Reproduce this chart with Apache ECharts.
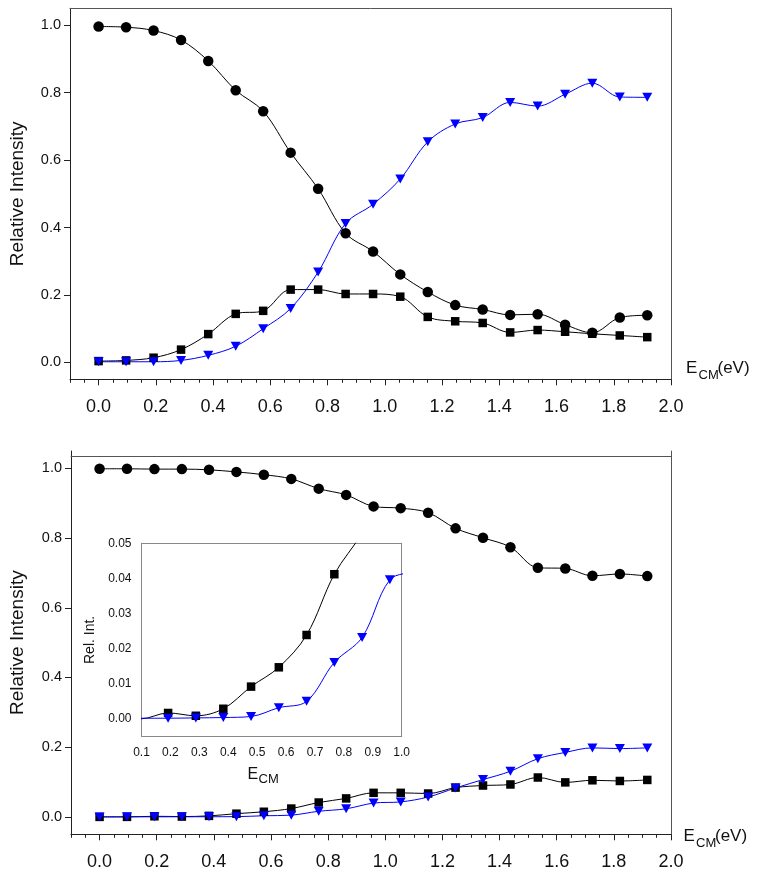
<!DOCTYPE html>
<html>
<head>
<meta charset="utf-8">
<script src="https://cdn.jsdelivr.net/npm/echarts@6/dist/echarts.min.js"></script>
<style>
html,body{margin:0;padding:0;background:#fff;}
#chart{width:762px;height:875px;}
</style>
</head>
<body>
<div id="chart"></div>
<script>
// ---- data ----
const energies = [0, 0.096, 0.192, 0.288, 0.383, 0.479, 0.575, 0.671, 0.767, 0.863, 0.959, 1.054, 1.150, 1.246, 1.342, 1.438, 1.534, 1.630, 1.725, 1.821, 1.917];

const topCircles   = [0.996, 0.994, 0.984, 0.956, 0.894, 0.807, 0.745, 0.622, 0.515, 0.383, 0.329, 0.261, 0.209, 0.170, 0.157, 0.141, 0.143, 0.112, 0.088, 0.133, 0.140];
const topSquares   = [0.004, 0.006, 0.014, 0.038, 0.084, 0.144, 0.153, 0.216, 0.216, 0.203, 0.203, 0.195, 0.135, 0.122, 0.117, 0.089, 0.096, 0.091, 0.085, 0.080, 0.075];
const topTriangles = [0.002, 0.002, 0.002, 0.006, 0.021, 0.048, 0.100, 0.160, 0.268, 0.412, 0.469, 0.544, 0.654, 0.707, 0.726, 0.771, 0.760, 0.795, 0.828, 0.787, 0.786];

const botCircles   = [0.999, 0.999, 0.998, 0.998, 0.996, 0.990, 0.982, 0.970, 0.942, 0.924, 0.891, 0.886, 0.873, 0.828, 0.801, 0.774, 0.715, 0.713, 0.692, 0.697, 0.691];
const botSquares   = [0.000, 0.000, 0.0017, 0.0009, 0.0029, 0.0092, 0.0147, 0.0239, 0.0412, 0.053, 0.069, 0.069, 0.067, 0.084, 0.090, 0.093, 0.113, 0.099, 0.105, 0.103, 0.106];
const botTriangles = [0.000, 0.0002, 0.0002, 0.0003, 0.0004, 0.0007, 0.0032, 0.0050, 0.0161, 0.0232, 0.0396, 0.043, 0.057, 0.083, 0.107, 0.131, 0.167, 0.185, 0.198, 0.196, 0.198];

const xMajorTicks = [0, 0.2, 0.4, 0.6, 0.8, 1.0, 1.2, 1.4, 1.6, 1.8, 2.0];
const yMajorTicks = [0, 0.2, 0.4, 0.6, 0.8, 1.0];
const insetXTicks = [0.1, 0.2, 0.3, 0.4, 0.5, 0.6, 0.7, 0.8, 0.9, 1.0];
const insetYTicks = [0, 0.01, 0.02, 0.03, 0.04, 0.05];

// ---- helpers ----
const xMinorTicks = [];
for (let i = -2; i <= 40; i++) { if (i % 4 !== 0) xMinorTicks.push(+(i * 0.05).toFixed(2)); }
const pairs = ys => energies.map((x, i) => [x, ys[i]]);

const FONT = '"Liberation Sans", Arial, Helvetica, sans-serif';
const AX = '#222';
const BORDER = '#555';
const BLUE = '#0000ff';

function mainXAxes(grid) {
  return [
    {
      gridIndex: grid, type: 'value', min: -0.1, max: 2.0, position: 'bottom',
      axisLine: { show: true, onZero: false, lineStyle: { color: AX, width: 1 } },
      axisTick: { show: true, length: 6, customValues: xMajorTicks, lineStyle: { color: AX } },
      axisLabel: { customValues: xMajorTicks, formatter: v => v.toFixed(1), fontSize: 18, margin: 19, color: '#111', fontFamily: FONT },
      splitLine: { show: false }
    },
    {
      gridIndex: grid, type: 'value', min: -0.1, max: 2.0, position: 'bottom',
      axisLine: { show: false, onZero: false },
      axisTick: { show: true, length: 3.5, customValues: xMinorTicks, lineStyle: { color: AX } },
      axisLabel: { show: false }, splitLine: { show: false }
    }
  ];
}
function topBorder(grid, offset) {
  return {
    gridIndex: grid, type: 'value', min: -0.1, max: 2.0, position: 'top', offset: offset,
    axisLine: { show: true, onZero: false, lineStyle: { color: BORDER } },
    axisTick: { show: false }, axisLabel: { show: false }, splitLine: { show: false }
  };
}
function mainYAxes(grid, nameGap) {
  return [
    {
      gridIndex: grid, type: 'value', min: -0.05, max: 1.05, position: 'left',
      axisLine: { show: true, onZero: false, lineStyle: { color: AX } },
      axisTick: { show: true, length: 6, customValues: yMajorTicks, lineStyle: { color: AX } },
      axisLabel: { customValues: yMajorTicks, formatter: v => v.toFixed(1), fontSize: 14.5, margin: 9, color: '#111', fontFamily: FONT },
      splitLine: { show: false },
      name: 'Relative Intensity', nameLocation: 'middle', nameGap: nameGap,
      nameTextStyle: { fontSize: 19, fontFamily: FONT, color: '#111' }
    },
    {
      gridIndex: grid, type: 'value', min: -0.05, max: 1.05, position: 'right',
      axisLine: { show: true, onZero: false, lineStyle: { color: BORDER } },
      axisTick: { show: false }, axisLabel: { show: false }, splitLine: { show: false }
    }
  ];
}

const xAxes = [].concat(
  mainXAxes(0),          // 0,1
  [topBorder(0, 0)],     // 2
  mainXAxes(1),          // 3,4
  [topBorder(1, -5)],    // 5
  [{                     // 6 inset x
    gridIndex: 2, type: 'value', min: 0.1, max: 1.0, position: 'bottom',
    axisLine: { show: true, onZero: false, lineStyle: { color: '#888' } },
    axisTick: { show: false, customValues: insetXTicks },
    axisLabel: { customValues: insetXTicks, formatter: v => v.toFixed(1), fontSize: 12, margin: 10, color: '#111', fontFamily: FONT },
    splitLine: { show: false }
  },
  {                      // 7 inset top border
    gridIndex: 2, type: 'value', min: 0.1, max: 1.0, position: 'top',
    axisLine: { show: true, onZero: false, lineStyle: { color: '#888' } },
    axisTick: { show: false }, axisLabel: { show: false }, splitLine: { show: false }
  }]
);

const yAxes = [].concat(
  mainYAxes(0, 43),   // 0,1
  mainYAxes(1, 44),   // 2,3
  [{                  // 4 inset y
    gridIndex: 2, type: 'value', min: -0.005, max: 0.05, position: 'left',
    axisLine: { show: true, onZero: false, lineStyle: { color: '#888' } },
    axisTick: { show: false, customValues: insetYTicks },
    axisLabel: { customValues: insetYTicks, formatter: v => v.toFixed(2), fontSize: 12, margin: 10, color: '#111', fontFamily: FONT },
    splitLine: { show: false },
    name: 'Rel. Int.', nameLocation: 'middle', nameGap: 44,
    nameTextStyle: { fontSize: 14, fontFamily: FONT, color: '#111' }
  },
  {                   // 5 inset right border
    gridIndex: 2, type: 'value', min: -0.005, max: 0.05, position: 'right',
    axisLine: { show: true, onZero: false, lineStyle: { color: '#888' } },
    axisTick: { show: false }, axisLabel: { show: false }, splitLine: { show: false }
  }]
);

function ser(ys, xi, yi, symbol, color, size, rotate) {
  return {
    type: 'line', xAxisIndex: xi, yAxisIndex: yi, data: pairs(ys),
    smooth: 0.35, clip: true,
    symbol: symbol, symbolSize: size, symbolRotate: rotate || 0, showAllSymbol: true,
    lineStyle: { color: color, width: 1 },
    itemStyle: { color: color, borderWidth: 0 },
    emphasis: { disabled: true }
  };
}

function txt(text, x, y, size) {
  return { type: 'text', x: x, y: y, silent: true,
    style: { text: text, fontSize: size, fontFamily: FONT, fill: '#111', align: 'left', verticalAlign: 'middle' } };
}

const option = {
  animation: false,
  backgroundColor: '#fff',
  grid: [
    { left: 69.5, top: 8.3, width: 601.5, height: 371 },
    { left: 71, top: 451, width: 600, height: 383.3 },
    { left: 141.5, top: 543.3, width: 260.2, height: 193.2 }
  ],
  xAxis: xAxes,
  yAxis: yAxes,
  graphic: [
    // top chart axis title E_CM(eV)
    txt('E', 686, 368.5, 17), txt('CM', 698.5, 375.5, 13), txt('(eV)', 717.5, 368.5, 17),
    // bottom chart axis title E_CM(eV)
    txt('E', 683.5, 836, 17), txt('CM', 696, 843, 13), txt('(eV)', 715, 836, 17),
    // inset axis title E_CM
    txt('E', 247.5, 775, 16), txt('CM', 258.5, 779.5, 13)
  ],
  series: [
    ser(topSquares, 0, 0, 'rect', '#000', 8.5),
    ser(topTriangles, 0, 0, 'triangle', BLUE, [10, 9], 180),
    ser(topCircles, 0, 0, 'circle', '#000', 10.5),
    ser(botSquares, 3, 2, 'rect', '#000', 8.5),
    ser(botTriangles, 3, 2, 'triangle', BLUE, [10, 9], 180),
    ser(botCircles, 3, 2, 'circle', '#000', 10.5),
    ser(botSquares, 6, 4, 'rect', '#000', 8.5),
    ser(botTriangles, 6, 4, 'triangle', BLUE, [10, 9], 180)
  ]
};

const chart = echarts.init(document.getElementById('chart'), null, { renderer: 'canvas' });
chart.setOption(option);
</script>
</body>
</html>
